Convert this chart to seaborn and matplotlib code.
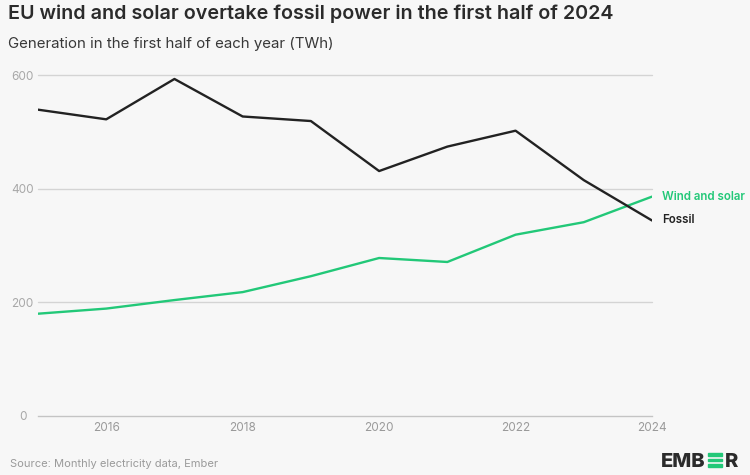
import matplotlib
matplotlib.use("Agg")
import matplotlib.pyplot as plt
from matplotlib.patches import Rectangle
import seaborn as sns
import pandas as pd

# Data (TWh, first half of each year)
years = [2015, 2016, 2017, 2018, 2019, 2020, 2021, 2022, 2023, 2024]
fossil = [539, 522, 593, 527, 519, 431, 474, 502, 415, 344]
wind_solar = [180, 189, 204, 218, 246, 278, 271, 319, 341, 386]
series_names = ["Wind and solar", "Fossil"]
y_ticks = [0, 200, 400, 600]
x_ticks = [2016, 2018, 2020, 2022, 2024]

title = "EU wind and solar overtake fossil power in the first half of 2024"
subtitle = "Generation in the first half of each year (TWh)"
source = "Source: Monthly electricity data, Ember"

GREEN = "#22c878"
DARK = "#222222"
BG = "#f7f7f7"
W, H = 750, 475

df = pd.DataFrame({
    "year": years * 2,
    "value": wind_solar + fossil,
    "series": [series_names[0]] * len(years) + [series_names[1]] * len(years),
})

sns.set_theme(style="white")
plt.rcParams["font.family"] = ["Inter", "DejaVu Sans"]

fig = plt.figure(figsize=(7.5, 4.75), dpi=100, facecolor=BG)
ax = fig.add_axes([38 / W, 1 - 416 / H, (652 - 38) / W, (416 - 75) / H])
ax.set_facecolor(BG)

sns.lineplot(data=df, x="year", y="value", hue="series",
             palette={series_names[0]: GREEN, series_names[1]: DARK},
             linewidth=1.7, legend=False, ax=ax, zorder=3)

ax.set_xlim(years[0], years[-1])
ax.set_ylim(0, 600)
ax.set_yticks(y_ticks)
ax.set_xticks(x_ticks)
ax.set_xlabel("")
ax.set_ylabel("")

for v in y_ticks[1:]:
    ax.axhline(v, color="#d4d4d4", linewidth=1, zorder=1, clip_on=False)

for s in ["top", "right", "left"]:
    ax.spines[s].set_visible(False)
ax.spines["bottom"].set_color("#c4c4c4")
ax.spines["bottom"].set_linewidth(1)

ax.tick_params(axis="x", colors="#c4c4c4", direction="inout", length=4,
               width=1, pad=2, labelsize=8.5, labelcolor="#9a9a9a")
ax.tick_params(axis="y", length=0, pad=11, labelsize=8.5, labelcolor="#a8a8a8")
for lbl in ax.get_yticklabels():
    lbl.set_horizontalalignment("center")

# End labels
ax.annotate(series_names[0], xy=(years[-1], wind_solar[-1]), xytext=(7, 0),
            textcoords="offset points", color=GREEN, fontsize=8.3,
            fontweight="semibold", va="center", ha="left", annotation_clip=False)
ax.annotate(series_names[1], xy=(years[-1], fossil[-1]), xytext=(7, 0),
            textcoords="offset points", color=DARK, fontsize=8.3,
            fontweight="semibold", va="center", ha="left", annotation_clip=False)

fig.text(8 / W, 1 - 14 / H, title, fontsize=14.2, fontweight="semibold",
         color="#2b2b2b", va="center", ha="left")
fig.text(8 / W, 1 - 44 / H, subtitle, fontsize=10.8, color="#383838",
         va="center", ha="left")
fig.text(10 / W, 1 - 464 / H, source, fontsize=8, color="#9a9a9a",
         va="center", ha="left")

# Ember logo: "EMB" + three green bars + "R"
logo_top, logo_bot = 452.7, 467.3
cap = logo_bot - logo_top
fig.text(661 / W, 1 - logo_bot / H, "EMB", fontsize=14.5, fontweight="heavy",
         color="#2b2b2b", va="baseline", ha="left")
bar_h = cap * 0.2
for k in range(3):
    y0 = logo_bot - bar_h - k * (cap - bar_h) / 2
    fig.patches.append(Rectangle((708 / W, 1 - (y0 + bar_h) / H),
                                 13.5 / W, bar_h / H, color=GREEN,
                                 transform=fig.transFigure, figure=fig))
fig.text(724.5 / W, 1 - logo_bot / H, "R", fontsize=14.5, fontweight="heavy",
         color="#2b2b2b", va="baseline", ha="left")

fig.savefig("out.png", dpi=100, facecolor=BG)
